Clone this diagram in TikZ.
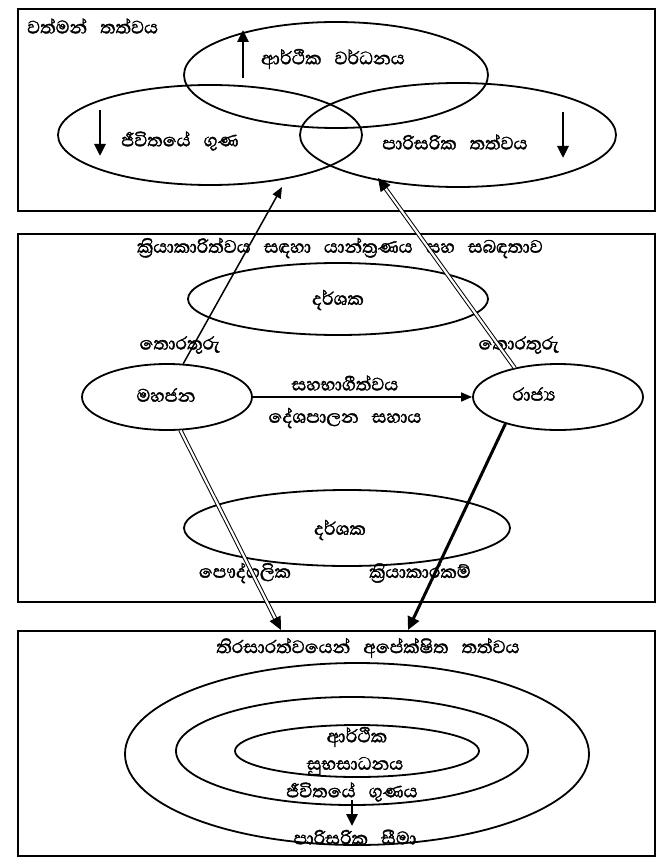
\documentclass[tikz,border=0pt]{standalone}
\usepackage{fontspec}
\newfontfamily\si[Script=Sinhala,FakeBold=1.6]{Abhaya Libre}
\newcommand\wg{\hspace{13pt}}
\usetikzlibrary{shapes.geometric,arrows.meta,calc}
\begin{document}
\begin{tikzpicture}[x=1pt,y=-1pt,
  frame/.style={draw,line width=2pt,inner sep=0pt},
  ell/.style={draw,ellipse,line width=1.8pt,inner sep=0pt},
  lbl/.style={font=\si\fontsize{23}{27}\selectfont,inner sep=1pt},
  tipA/.style={-{Triangle[length=11pt,width=9pt]}},
  ind/.style={line width=2.8pt,-{Triangle[length=12pt,width=11pt]}},
  thin/.style={line width=1.5pt,tipA},
  thick/.style={line width=3pt,-{Triangle[length=13pt,width=12pt]}},
  dbl/.style={double,double distance=2.2pt,line width=1pt,shorten >=11pt},
  dtip/.style={line width=1pt,-{Triangle[length=13pt,width=12pt]}}
]
\useasboundingbox (0,0) rectangle (657,861);
\fill[white] (0,0) rectangle (657,861);

% ---------- box 1 ----------
\node[frame,anchor=north west,minimum width=637pt,minimum height=202pt] (b1) at (17,8) {};
\node[lbl,anchor=west] (t1) at (26,26) {වත්මන්\wg තත්වය};
\node[ell,minimum width=304pt,minimum height=106pt] (eTop) at (336,75) {};
\node[ell,minimum width=304pt,minimum height=100pt] (eL) at (210,135) {};
\node[ell,minimum width=316pt,minimum height=104pt] (eR) at (458,135) {};
\node[lbl] (econ) at (333,59) {ආර්ථික\wg වර්ධනය};
\node[lbl] (life) at (180,141) {ජීවිතයේ\wg ගුණ};
\node[lbl] (envs) at (455,142) {පාරිසරික\wg තත්වය};
\coordinate (u1) at (243,78); \coordinate (u2) at (243,30);
\coordinate (d1) at (100,110); \coordinate (d2) at (100,156);
\coordinate (r1) at (563,112); \coordinate (r2) at (563,158);
\draw[ind] (u1) -- (u2);
\draw[ind] (d1) -- (d2);
\draw[ind] (r1) -- (r2);

% ---------- box 2 ----------
\node[frame,anchor=north west,minimum width=637pt,minimum height=368pt] (b2) at (17,233) {};
\node[lbl] (t2) at (340,248) {ක්‍රියාකාරිත්වය\wg සඳහා\wg යාන්ත්‍රණය\wg සහ\wg සබඳතාව};
\node[ell,minimum width=300pt,minimum height=72pt] (ind1) at (338,299) {};
\node[lbl] (ind1t) at (338,300) {දර්ශක};
\node[lbl] (infoL) at (180,345) {තොරතුරු};
\node[lbl] (infoR) at (519,345) {තොරතුරු};
\node[ell,minimum width=170pt,minimum height=66pt] (mah) at (167,397) {};
\node[lbl] (maht) at (166,395) {මහජන};
\node[ell,minimum width=170pt,minimum height=66pt] (raj) at (558,397) {};
\node[lbl] (rajt) at (534,394) {රාජ්‍ය};
\node[lbl] (part) at (345,383) {සහභාගීත්වය};
\node[lbl] (pol) at (345,418) {දේශපාලන\wg සහාය};
\draw[thin] (mah.east) -- (raj.west);
\node[ell,minimum width=326pt,minimum height=76pt] (ind2) at (347,528) {};
\node[lbl] (ind2t) at (340,530) {දර්ශක};
\node[lbl] (priv) at (245,573) {පෞද්ගලික};
\node[lbl] (act) at (420,573) {ක්‍රියාකාරකම්};

% ---------- box 3 ----------
\node[frame,anchor=north west,minimum width=637pt,minimum height=225pt] (b3) at (17,630) {};
\node[lbl] (t3) at (368,648) {තිරසාරත්වයෙන්\wg අපේක්ෂිත\wg තත්වය};
\node[ell,minimum width=464pt,minimum height=182pt] (o1) at (357,754) {};
\node[ell,minimum width=352pt,minimum height=108pt] (o2) at (352,751) {};
\node[ell,minimum width=244pt,minimum height=52pt] (o3) at (357,751) {};
\node[lbl] (w1) at (357,737) {ආර්ථික};
\node[lbl] (w2) at (355,766) {සුභසාධනය};
\node[lbl] (w3) at (352,792) {ජීවිතයේ\wg ගුණය};
\node[lbl] (w4) at (355,837) {පාරිසරික\wg සීමා};
\coordinate (a1) at (352,800); \coordinate (a2) at (352,826);
\draw[ind] (a1) -- (a2);

% ---------- connectors ----------
\coordinate (tipL) at (282,187);
\coordinate (tipR) at (378,178);
\coordinate (tipP) at (281,630);
\coordinate (tipA) at (408,630);
\draw[thin] (mah.64) -- (tipL);
\draw[dbl] (raj.146) -- (tipR);
\draw[dtip] ($(tipR)!13pt!(raj.146)$) -- (tipR);
\draw[dbl] (mah.-68) -- (tipP);
\draw[dtip] ($(tipP)!13pt!(mah.-68)$) -- (tipP);
\draw[thick] (raj.-153) -- (tipA);
\end{tikzpicture}
\end{document}
